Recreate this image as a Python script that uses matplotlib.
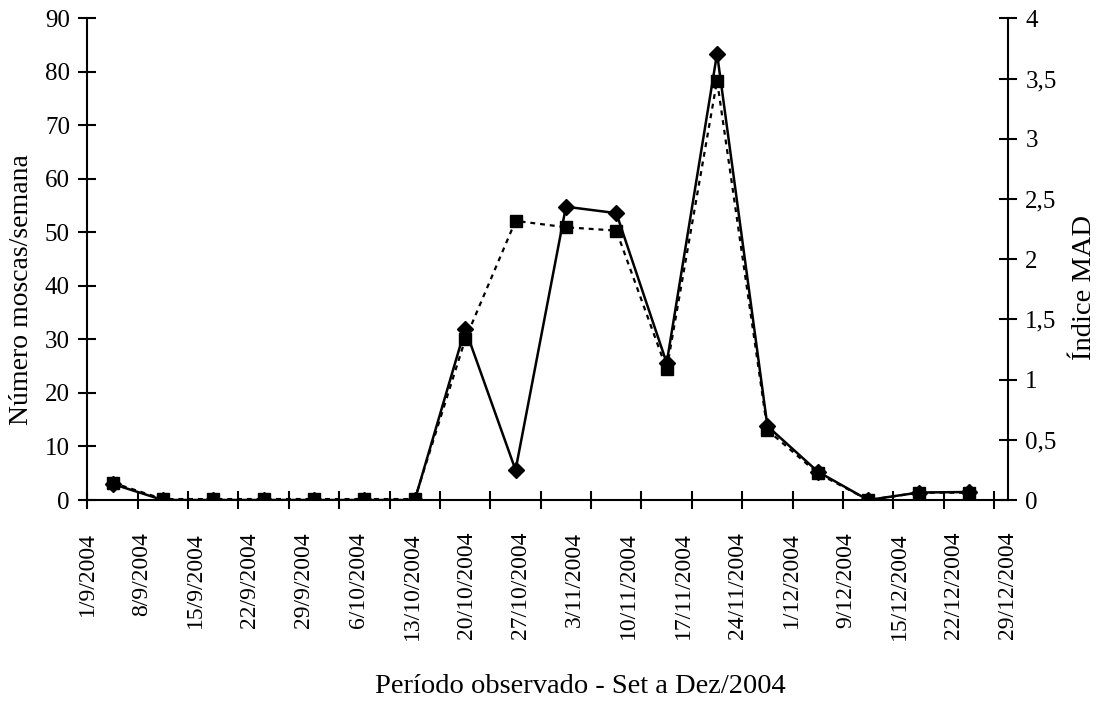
import matplotlib
matplotlib.use("Agg")
import matplotlib.pyplot as plt
import numpy as np

# ---- data ----
tick_labels = ["1/9/2004", "8/9/2004", "15/9/2004", "22/9/2004", "29/9/2004",
               "6/10/2004", "13/10/2004", "20/10/2004", "27/10/2004",
               "3/11/2004", "10/11/2004", "17/11/2004", "24/11/2004",
               "1/12/2004", "9/12/2004", "15/12/2004", "22/12/2004", "29/12/2004"]
moscas = [3.0, 0, 0, 0, 0, 0, 0, 32.0, 5.6, 54.8, 53.6, 25.6, 83.4,
          13.8, 5.3, 0, 1.4, 1.5]
mad = [0.144, 0.008, 0.008, 0.008, 0.008, 0.008, 0.008, 1.333, 2.318,
       2.265, 2.237, 1.085, 3.483, 0.581, 0.222, 0.0, 0.061, 0.061]

plt.rcParams['font.family'] = ['Liberation Serif', 'DejaVu Serif']

fig = plt.figure(figsize=(11.17, 7.01), dpi=100)
ax = fig.add_axes([0.0782, 0.2867, 0.8242, 0.6872])
ax2 = ax.twinx()

n = len(moscas)
x = np.arange(n) + 0.5

ax.plot(x, moscas, color='black', lw=1.8, marker='D', ms=8.5,
        markerfacecolor='black', markeredgecolor='black', zorder=3)
ax2.plot(x, mad, color='black', lw=1.6, linestyle=(0, (2.2, 2.2)), marker='s',
         ms=9, markerfacecolor='black', markeredgecolor='black', zorder=3)

ax.set_xlim(0, 18)
ax.set_ylim(0, 90)
ax2.set_ylim(0, 4)

ax.set_yticks(np.arange(0, 91, 10))
ax2.set_yticks(np.arange(0, 4.01, 0.5))
ax2.set_yticklabels([("%g" % v).replace('.', ',') for v in np.arange(0, 4.01, 0.5)])

# major ticks: category boundaries (no labels)
ax.xaxis.remove_overlapping_locs = False
ax.set_xticks(np.arange(0, 19))
ax.set_xticklabels([])
# minor ticks carry the date labels
label_step = 1.075
ax.set_xticks(np.arange(len(tick_labels)) * label_step, minor=True)
ax.set_xticklabels(tick_labels, minor=True, rotation=90, fontsize=17,
                   va='top', ha='center')
ax.tick_params(axis='x', which='minor', length=0, pad=23)
ax.tick_params(axis='x', which='major', direction='inout', length=13, width=1.5)
ax.tick_params(axis='y', direction='inout', length=13, width=1.5, labelsize=18, pad=6)
ax2.tick_params(axis='y', direction='inout', length=13, width=1.5, labelsize=18, pad=6)

for a in (ax, ax2):
    a.spines['top'].set_visible(False)
    for s in ('left', 'right', 'bottom'):
        a.spines[s].set_linewidth(1.5)
ax.spines['right'].set_visible(False)
ax2.spines['left'].set_visible(False)
ax2.spines['bottom'].set_visible(False)

ax.set_ylabel("Número moscas/semana", fontsize=20)
ax2.set_ylabel("Índice MAD", fontsize=20.5)
ax.yaxis.set_label_coords(-0.058, 0.436)
ax2.yaxis.set_label_coords(1.070, 0.442)
fig.text(0.520, 0.020, "Período observado - Set a Dez/2004", fontsize=20.5,
         ha='center', va='center')

fig.savefig("out.png", dpi=100)
